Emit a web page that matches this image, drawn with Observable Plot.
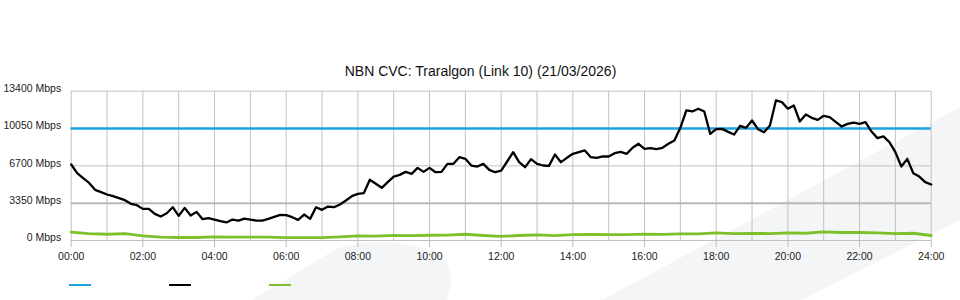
<!DOCTYPE html>
<html><head><meta charset="utf-8">
<script src="https://cdn.jsdelivr.net/npm/d3@7"></script>
<script src="https://cdn.jsdelivr.net/npm/@observablehq/plot@0.6"></script>
<style>
html,body{margin:0;padding:0;background:#fff;}
#wrap{position:relative;width:960px;height:300px;overflow:hidden;font-family:"Liberation Sans",Arial,sans-serif;}
#bg{position:absolute;left:0;top:0;}
#chart{position:absolute;left:0;top:0;}
#legend{position:absolute;left:0;top:284px;width:960px;height:3px;}
.sw{position:absolute;top:0;width:22px;height:2px;}
</style></head>
<body><div id="wrap">
<svg id="bg" width="960" height="300"><path d="M602,300 L960,107 L960,220 L802,300 Z" fill="#f4f5f7"/><path d="M252,300 L338,248 Q382,234 438,252 Q451,260 451,285 L447,300 Z" fill="#f4f5f7"/></svg>
<div id="chart"></div>
<div id="legend"></div>
</div>
<script>
const title = "NBN CVC: Traralgon (Link 10) (21/03/2026)";
const seriesNames = ["Capacity", "Utilisation", "Upload"];
const capacity = 10050;
// utilisation, every 10 minutes from 00:00 to 24:00 (Mbps)
const utilisation = [
  6820, 6040, 5590, 5170, 4550, 4340, 4130, 3980, 3800, 3620,
  3290, 3170, 2840, 2840, 2390, 2150, 2450, 2990, 2210, 2930,
  2240, 2570, 1910, 2000, 1880, 1730, 1620, 1880, 1790, 1970,
  1880, 1790, 1790, 1940, 2120, 2300, 2270, 2090, 1850, 2330,
  1940, 2990, 2750, 3050,
  2990, 3230, 3590, 3980, 4190, 4250, 5450, 5090, 4730, 5240,
  5740, 5890, 6160, 5980, 6520, 6160, 6520, 6130, 6160, 6880,
  6880, 7480, 7330, 6730, 6640, 6880, 6340, 6130, 6280, 7090,
  7930, 7030, 6580, 7300, 6880, 6730, 6700, 7720, 7030, 7420,
  7780, 7930, 8080, 7480, 7420, 7540, 7540, 7840, 7960, 7780,
  8320, 8680,
  8230, 8290, 8200, 8320, 8680, 8980, 10110, 11670,
  11580, 11820, 11580, 9570, 9990, 10020, 9750, 9510, 10290, 10110,
  10770, 9990, 9720, 10320, 12570, 12420, 11820, 12120, 10680, 11310,
  11010, 10830, 11190, 11070, 10650, 10230, 10470, 10590, 10470, 10620,
  9780, 9190, 9340, 8830, 7930, 6640, 7330, 6040, 5740, 5240, 5030
];
// upload, every 30 minutes from 00:00 to 24:00 (Mbps)
const upload = [
  750, 620, 560, 620, 420, 300, 270, 270, 330, 300,
  300, 300, 250, 250, 260, 330, 420, 400, 460, 440,
  470, 480, 560, 450, 370, 450, 500, 430, 530, 540,
  520, 530, 580, 550, 600, 600, 690, 610, 640, 620,
  690, 650, 780, 720, 720, 680, 620, 650, 450
];
const gridHours = [0,1,2,3,4,5,6,7,8,9,10,11,12,13,14,15,16,17,18,19,20,21,22,23,24];
const xTicks = [0, 2, 4, 6, 8, 10, 12, 14, 16, 18, 20, 22, 24];
const xTickLabels = ["00:00","02:00","04:00","06:00","08:00","10:00","12:00","14:00","16:00","18:00","20:00","22:00","24:00"];
const yTicks = [0, 3350, 6700, 10050, 13400];
const yTickLabels = ["0 Mbps", "3350 Mbps", "6700 Mbps", "10050 Mbps", "13400 Mbps"];

const colors = {Capacity: "#1ca3df", Utilisation: "#000000", Upload: "#7cc12b"};

const chart = Plot.plot({
  width: 960, height: 270,
  marginTop: 90.7, marginLeft: 70.7, marginRight: 29.3, marginBottom: 30,
  style: {background: "transparent", fontFamily: "'Liberation Sans', Arial, sans-serif", fontSize: "10.5px", color: "#222", overflow: "visible"},
  x: {domain: [0, 24]},
  y: {domain: [0, 13400]},
  marks: [
    Plot.gridX(gridHours, {stroke: "#c2c2c2", strokeOpacity: 1, strokeWidth: 1}),
    Plot.gridY(yTicks.filter(d => d !== 3350), {stroke: "#c2c2c2", strokeOpacity: 1, strokeWidth: 1}),
    Plot.ruleY([3350], {stroke: "#b8b8b8", strokeWidth: 2}),
    Plot.axisX(xTicks, {tickSize: 7, tickPadding: 5.5, stroke: "#bdbdbd", strokeOpacity: 1, fill: "#222",
      tickFormat: d => xTickLabels[xTicks.indexOf(d)]}),
    Plot.axisY(yTicks, {tickSize: 0, tickPadding: 10, fill: "#222", dy: -2.5,
      tickFormat: d => yTickLabels[yTicks.indexOf(d)]}),
    Plot.ruleY([capacity], {stroke: colors.Capacity, strokeWidth: 2.5}),
    Plot.line(utilisation, {x: (d, i) => i / 6, y: d => d, stroke: colors.Utilisation, strokeWidth: 2.3}),
    Plot.line(upload, {x: (d, i) => i / 2, y: d => d, stroke: colors.Upload, strokeWidth: 2.8}),
    Plot.text([title], {frameAnchor: "top", lineAnchor: "top", dx: -20.7, dy: -25.5, fontSize: 14, fill: "#111"})
  ]
});
document.getElementById("chart").appendChild(chart);

const legend = document.getElementById("legend");
seriesNames.forEach((name, i) => {
  const s = document.createElement("div");
  s.className = "sw";
  s.title = name;
  s.style.left = (69 + i * 100) + "px";
  s.style.background = colors[name];
  legend.appendChild(s);
});
</script>
</body></html>
